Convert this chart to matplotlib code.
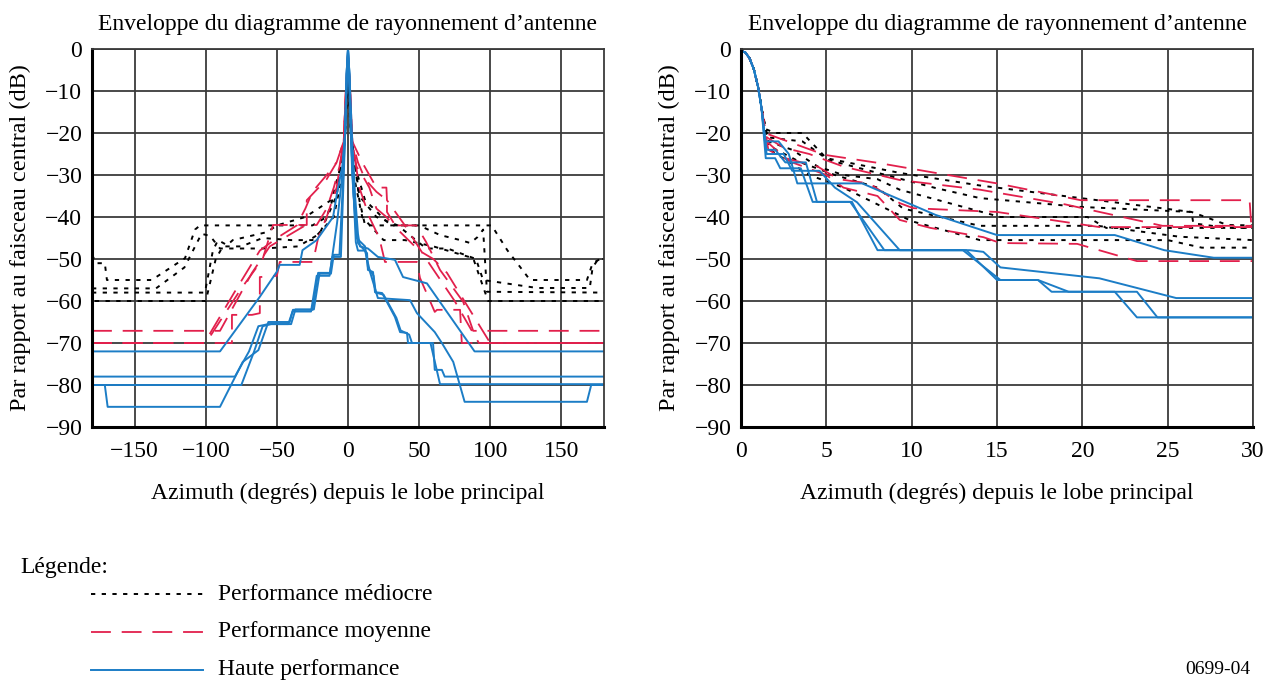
import matplotlib
matplotlib.use("Agg")
import matplotlib.pyplot as plt
from matplotlib.lines import Line2D

plt.rcParams['font.family'] = ['Liberation Serif', 'DejaVu Serif']
plt.rcParams['axes.unicode_minus'] = True

# ---- data (azimuth deg, level dB) ----
# main lobe shared by every curve of the right-hand zoom plot
lobe_x = [0, 0.25, 0.5, 0.75, 1.0, 1.2]
lobe_y = [-0.5, -0.8, -2.2, -4.8, -9, -14]

# left plot: full -180..180 envelopes
left_black = [
    ([-180, -177, -171, -169.5, -138, -114.6, -107.6, -104, -25, -15, -8, -4, -1.5, 0,
      1.5, 4, 8, 12, 101, 112, 128, 168, 172, 180],
     [-49, -51, -51, -55, -55, -49.8, -43, -42, -42, -40, -33, -25, -18, -2,
      -18, -25, -36, -42, -42, -47.9, -55, -55, -51, -49.5]),
    ([-180, -100.6, -95, -91.4, -85, -81, -57, -50, -30, -12, -5, -2, 0,
      2, 5, 12, 30, 50, 64.7, 79, 86, 91, 95, 97.7, 180],
     [-58, -58, -48, -45.5, -46.7, -45.5, -43.6, -42, -40, -36, -28, -20, -2,
      -20, -28, -36, -42, -42, -44.3, -45.5, -46.2, -44.8, -43, -57.8, -58]),
    ([-178, -100, -93, -88, -75, -60, -40, -25, -10, -4, -2, 0,
      2, 4, 10, 25, 40, 60, 88, 98.5, 180],
     [-60, -60, -50, -47, -47, -45, -45.5, -45.5, -40, -30, -20, -2,
      -20, -30, -40, -45.5, -45.5, -47, -49.8, -60, -60]),
    ([-180, -135, -115, -103, -97, -90, -60, -35, -20, -8, -2, 0,
      2, 8, 20, 35, 55, 70, 90, 95, 133, 170, 172, 176, 180],
     [-57, -57, -52, -44, -44.5, -47.5, -47.5, -47, -44, -35, -20, -2,
      -20, -35, -40, -42, -47.5, -47.5, -50, -55, -56.9, -56.9, -52, -50, -50]),
]
left_red = [
    ([-180, -90, -67.5, -55, -40, -30, -22, -15, -10, -6, -3, -1.5, 0,
      1.5, 3, 6, 10, 15, 20, 27, 32, 48, 55, 64.7, 81, 88, 180],
     [-67.1, -67.1, -53.3, -47, -44, -42, -41.9, -38, -33, -28, -22, -10, -1,
      -10, -22, -28, -30, -33, -38, -40, -42, -42, -46, -52.6, -60.2, -67.1, -67.1]),
    ([-180, -101, -80, -62, -50, -36, -30, -25, -15, -8, -3, -1.5, 0,
      1.5, 3, 7, 12, 20, 27.4, 27.4, 35, 50, 60, 69.6, 100, 180],
     [-70, -70, -58, -48, -45, -42, -38, -34, -30, -27, -22, -10, -1,
      -10, -22, -27, -31, -34, -36, -38.8, -43, -48, -50, -53.3, -70, -70]),
    ([-180, -81.6, -81.6, -67.5, -62, -62, -50, -48, -24.6, -21, -15, -8, -3, -1.5, 0,
      1.5, 3, 8, 15, 22, 26, 48.5, 50.6, 61, 62.6, 78.8, 80, 180],
     [-70, -70, -63.3, -63.3, -62.9, -54.3, -54, -50.7, -50.7, -45, -40, -33, -22, -10, -1,
      -10, -22, -33, -40, -45, -50.7, -50.7, -54.5, -62.6, -62.1, -62.1, -70, -70]),
    ([-180, -100, -75, -60, -52.7, -29, -29, -15, -8, -3, -1.5, 0,
      1.5, 3, 10, 20, 27, 27.4, 40, 55, 75, 92, 180],
     [-70, -70, -57, -50, -41.9, -41.9, -36, -31, -27, -22, -10, -1,
      -10, -22, -27, -33, -33, -36, -42, -50, -60, -70, -70]),
]
left_blue = [
    ([-180, -90, -62, -50, -48, -34, -32, -22, -10.5, -7.7, -4, -2, -1, 0,
      1, 3, 5, 7, 8.4, 14, 21, 33, 38.7, 55.5, 89, 180],
     [-72, -72, -59, -53, -51.4, -51.4, -47.9, -45.5, -40, -34.3, -28, -20, -6, 0,
      -6, -22, -35, -44, -47, -47.5, -49.5, -50.2, -54.3, -55.8, -72, -72]),
    ([-180, -171, -169, -90, -74, -63, -56, -41, -38.7, -25, -21, -12.7, -7.7, -4, -2, -1, 0,
      1, 2, 4, 5.5, 7, 12, 15.5, 21, 43.6, 48.5, 61, 66, 74, 82, 168, 171, 180],
     [-80, -80, -85.2, -85.2, -74.5, -71.7, -65, -65, -62.1, -62.1, -53.3, -53.3, -41.4, -30, -20, -6, 0,
      -6, -20, -35, -46, -48, -48, -53.1, -59.3, -59.8, -62.9, -67.4, -70, -74.5, -84, -84, -80, -80]),
    ([-180, -79.5, -69.6, -63, -56, -40, -37, -24, -20, -12, -10, -6, -4, -2, -1, 0,
      1, 2, 4, 7, 13.4, 14, 17.6, 19, 24, 33, 36.6, 41.5, 42.2, 59.8, 61, 66, 68, 180],
     [-78, -78, -72, -66, -65.5, -65.5, -62, -62, -53.5, -53.5, -49, -49, -35, -20, -6, 0,
      -6, -20, -35, -46.2, -48.6, -52.6, -53.1, -57.9, -58.1, -63.8, -67.4, -67.6, -70, -70, -76.4, -76.4, -78, -78]),
    ([-180, -75, -66, -60, -54, -42, -39, -26, -22, -13, -11, -5, -3, -1.5, 0,
      1.5, 3, 6, 12, 14, 18, 19.5, 25, 34, 37, 43, 45, 58, 64.7, 180],
     [-80, -80, -72, -66, -65.5, -65.5, -62.5, -62.5, -54, -54, -49.5, -49.5, -30, -15, 0,
      -15, -30, -45, -47, -52, -54, -58, -58.5, -64, -67, -68, -70, -70, -79.8, -79.8]),
]

# right plot: 0..30 deg, tails after the main lobe
right_black = [
    ([1.4, 2.0, 3.6, 5.0, 9.3, 14, 19.9, 26.4, 28.5, 30],
     [-19, -20, -20, -26, -29.5, -32.5, -35.5, -38.8, -41.9, -42]),
    ([1.5, 2.5, 3.6, 5.1, 11.4, 14, 19.9, 26.4, 26.5, 28.5, 30],
     [-21, -21.5, -22, -26.4, -33.1, -35.5, -37.6, -38.8, -41.5, -42.6, -42.6]),
    ([1.6, 3, 4.5, 6, 8, 9.3, 15.2, 20.3, 21.4, 30],
     [-22, -24, -28, -30, -31, -33.5, -40, -40, -42.6, -42.6]),
    ([1.6, 3.5, 5.5, 8, 9.5, 14, 20.9, 25.7, 30],
     [-23, -27, -30, -33, -38, -42.1, -42.1, -44.7, -45.5]),
    ([1.7, 4, 6, 8.5, 10, 14, 25, 27, 30],
     [-24, -30, -33, -38, -41, -45.5, -45.5, -47.3, -47.3]),
]
right_red = [
    ([1.4, 2.2, 4.9, 8.0, 11.4, 15, 19.9, 29.8, 29.9, 30],
     [-20, -21.2, -25.2, -27.1, -29.5, -32, -36, -36, -42, -42]),
    ([1.5, 2.5, 4, 6, 9.3, 14, 19, 24.7, 30],
     [-21, -23.5, -25, -28, -31.2, -33.5, -37, -42.1, -42.1]),
    ([1.5, 2.6, 4.5, 5.7, 7.5, 9.3, 10.1, 15, 21, 30],
     [-22, -26, -28, -31, -32, -36.7, -37.9, -38.8, -42.4, -42.4]),
    ([1.6, 3, 5, 6, 8, 9.3, 11.1, 14.2, 15.2, 19.7, 23.2, 30],
     [-24, -27, -30, -33, -35, -40.7, -42.6, -44.8, -46.2, -46.4, -50.5, -50.5]),
]
right_blue = [
    ([1.45, 2.0, 2.3, 3.5, 4.2, 6.5, 8.0, 13.2, 15.0, 17.4, 18.2, 21.9, 23.2, 30],
     [-26, -26, -28.4, -28.4, -36.4, -36.4, -47.9, -47.9, -55, -55, -57.8, -57.8, -63.9, -63.9]),
    ([1.4, 2.2, 2.8, 3.3, 7.1, 11.4, 15, 21.9, 24.8, 27.7, 30],
     [-22, -22, -25, -32, -32, -39.5, -44.3, -44.3, -47.9, -49.7, -49.7]),
    ([1.5, 2.0, 2.6, 3.8, 4.45, 6.4, 8.4, 13.4, 14.2, 15.2, 21, 25.5, 30],
     [-24, -24, -27, -27, -36.4, -36.4, -47.9, -47.9, -48.3, -52, -54.6, -59.3, -59.3]),
    ([1.5, 2.5, 3.0, 4.6, 5.5, 6.8, 9.3, 13.0, 15.2, 17.4, 19.2, 23.2, 24.4, 30],
     [-25, -25, -29, -29, -33, -36.5, -47.9, -47.9, -55, -55, -57.8, -57.8, -63.9, -63.9]),
]

title = "Enveloppe du diagramme de rayonnement d\u2019antenne"
ylab = "Par rapport au faisceau central (dB)"
xlab = "Azimuth (degrés) depuis le lobe principal"
legend_labels = ["Performance médiocre", "Performance moyenne", "Haute performance"]

BLUE = '#1c7dc6'
RED = '#e2204c'
black_style = dict(color='black', lw=1.4, linestyle=(0, (2.2, 3.3)))
red_style = dict(color=RED, lw=1.3, linestyle=(0, (11, 6)))
blue_style = dict(color=BLUE, lw=1.4, linestyle='-')

FS = 17

fig = plt.figure(figsize=(12.79, 6.86), dpi=100)
ax1 = fig.add_axes([92/1279, 1-427/686, 512/1279, 378/686])
ax2 = fig.add_axes([741/1279, 1-427/686, 512/1279, 378/686])


def style_axes(ax, xlim, xticks):
    ax.set_xlim(*xlim)
    ax.set_ylim(-90, 0)
    ax.set_xticks(xticks)
    ax.set_yticks(range(-90, 1, 10))
    ax.grid(True, color='#3a3a3a', lw=1.3)
    ax.set_axisbelow(True)
    ax.tick_params(axis='x', length=0, pad=10, labelsize=FS)
    ax.tick_params(axis='y', length=0, pad=7, labelsize=FS)
    for s in ['top', 'right']:
        ax.spines[s].set_color('#3a3a3a')
        ax.spines[s].set_linewidth(1.3)
    for s in ['left', 'bottom']:
        ax.spines[s].set_color('black')
        ax.spines[s].set_linewidth(2.2)
    ax.set_title(title, fontsize=FS, pad=14)
    ax.set_ylabel(ylab, fontsize=17.5, labelpad=10)
    ax.set_xlabel(xlab, fontsize=FS, labelpad=15)


style_axes(ax1, (-180, 180), [-150, -100, -50, 0, 50, 100, 150])
style_axes(ax2, (0, 30), [0, 5, 10, 15, 20, 25, 30])

for xs, ys in left_black:
    ax1.plot(xs, ys, **black_style)
for xs, ys in left_red:
    ax1.plot(xs, ys, **red_style)
for xs, ys in left_blue:
    ax1.plot(xs, ys, **blue_style)

for xs, ys in right_black:
    ax2.plot(lobe_x + xs, lobe_y + ys, **black_style)
for xs, ys in right_red:
    ax2.plot(lobe_x + xs, lobe_y + ys, **red_style)
for xs, ys in right_blue:
    ax2.plot(lobe_x + xs, lobe_y + ys, **blue_style)

# legend drawn by hand below the plots
fig.text(20/1279, 1-568/686, "Légende:", fontsize=FS, va='center', ha='left')
for i, (lab, st) in enumerate(zip(legend_labels, [black_style, red_style, blue_style])):
    yy = 1 - (594 + 38*i)/686
    fig.add_artist(Line2D([91/1279, 203/1279], [yy, yy], transform=fig.transFigure, **st))
    fig.text(218/1279, yy, lab, fontsize=FS, va='center', ha='left')
fig.text(1250/1279, 1-670/686, "0699-04", fontsize=14, va='center', ha='right')

fig.savefig("out.png", dpi=100)
